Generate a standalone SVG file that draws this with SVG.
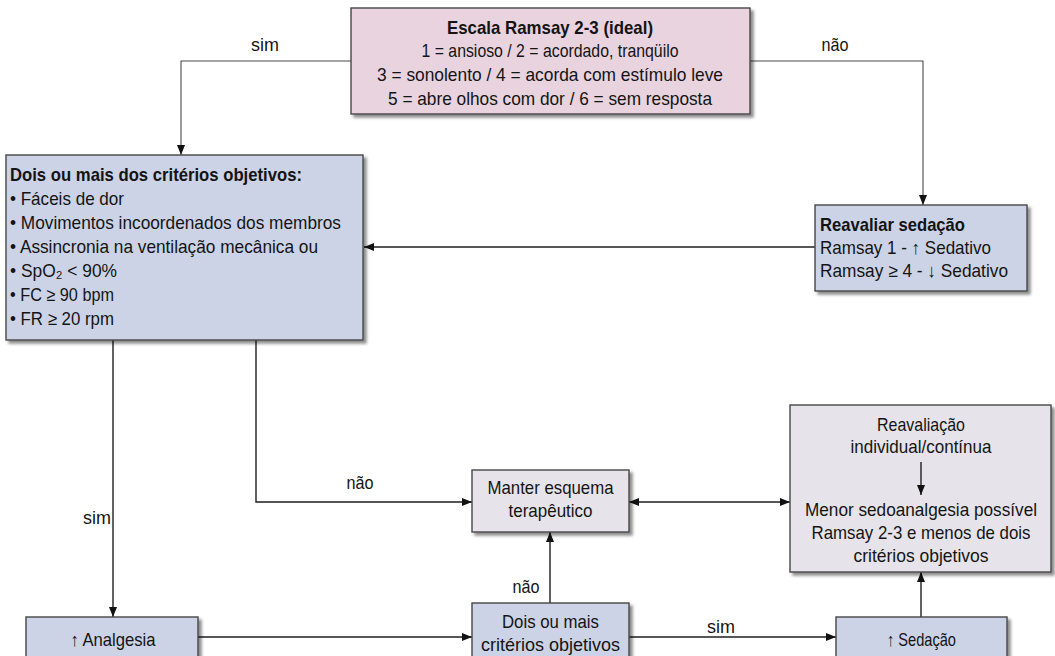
<svg xmlns="http://www.w3.org/2000/svg" width="1055" height="656" viewBox="0 0 1055 656">
  <style>
    .box { stroke: #464646; stroke-width: 1.4; filter: url(#sh); }
    .pink { fill: #e8d3df; }
    .blue { fill: #ccd3e6; }
    .gray { fill: #e6e4ea; }
    .t { font-family: "Liberation Sans Narrow", "Liberation Sans", Arial, sans-serif; font-size: 18.5px; fill: #141414; }
    .b { font-weight: bold; }
    .c { text-anchor: middle; }
    .conn { stroke: #1e1e1e; stroke-width: 1.4; fill: none; }
    .thin { stroke: #4a4a4a; stroke-width: 1.1; }
  </style>
  <defs>
    <marker id="arr" viewBox="0 0 10 10" refX="10" refY="5" markerWidth="10" markerHeight="10" markerUnits="userSpaceOnUse" orient="auto-start-reverse">
      <path d="M0,1 L10,5 L0,9 z" fill="#111"/>
    </marker>
    <filter id="sh" x="-5%" y="-5%" width="115%" height="125%">
      <feDropShadow dx="3" dy="3" stdDeviation="1.6" flood-color="#000" flood-opacity="0.45"/>
    </filter>
  </defs>
  <rect width="1055" height="656" fill="#ffffff"/>

  <!-- connectors -->
  <g id="connectors">
    <path class="conn thin" d="M351,61 H181 V155" marker-end="url(#arr)"/>
    <path class="conn thin" d="M750,61 H923 V205" marker-end="url(#arr)"/>
    <path class="conn" d="M815,247 H364" marker-end="url(#arr)"/>
    <path class="conn" d="M113,340 V617" marker-end="url(#arr)"/>
    <path class="conn" d="M256,340 V502 H472" marker-end="url(#arr)"/>
    <path class="conn" d="M198,637 H472" marker-end="url(#arr)"/>
    <path class="conn" d="M550,603 V532" marker-end="url(#arr)"/>
    <path class="conn" d="M629,637 H836" marker-end="url(#arr)"/>
    <path class="conn" d="M921,617 V572" marker-end="url(#arr)"/>
    <path class="conn" d="M629,502 H790" marker-start="url(#arr)" marker-end="url(#arr)"/>
    <text class="t c" x="265" y="51" textLength="28" lengthAdjust="spacingAndGlyphs">sim</text>
    <text class="t c" x="835" y="51" textLength="27" lengthAdjust="spacingAndGlyphs">não</text>
    <text class="t c" x="360" y="489" textLength="27" lengthAdjust="spacingAndGlyphs">não</text>
    <text class="t c" x="97" y="524" textLength="28" lengthAdjust="spacingAndGlyphs">sim</text>
    <text class="t c" x="526" y="593" textLength="27" lengthAdjust="spacingAndGlyphs">não</text>
    <text class="t c" x="721" y="633" textLength="28" lengthAdjust="spacingAndGlyphs">sim</text>
  </g>

  <!-- Ramsay scale -->
  <g id="ramsay">
    <rect class="box pink" x="351" y="8" width="399" height="106"/>
    <text class="t b c" x="550" y="34" textLength="206" lengthAdjust="spacingAndGlyphs">Escala Ramsay 2-3 (ideal)</text>
    <text class="t c" x="550" y="57" textLength="257" lengthAdjust="spacingAndGlyphs">1 = ansioso / 2 = acordado, tranqüilo</text>
    <text class="t c" x="550" y="81" textLength="346" lengthAdjust="spacingAndGlyphs">3 = sonolento / 4 = acorda com estímulo leve</text>
    <text class="t c" x="550" y="105" textLength="324" lengthAdjust="spacingAndGlyphs">5 = abre olhos com dor / 6 = sem resposta</text>
  </g>

  <!-- objective criteria -->
  <g id="criterios">
    <rect class="box blue" x="6" y="155" width="357" height="185"/>
    <text class="t b" x="10" y="181" textLength="292" lengthAdjust="spacingAndGlyphs">Dois ou mais dos critérios objetivos:</text>
    <text class="t" x="10" y="205" textLength="114" lengthAdjust="spacingAndGlyphs">• Fáceis de dor</text>
    <text class="t" x="10" y="229" textLength="331" lengthAdjust="spacingAndGlyphs">• Movimentos incoordenados dos membros</text>
    <text class="t" x="10" y="253" textLength="308" lengthAdjust="spacingAndGlyphs">• Assincronia na ventilação mecânica ou</text>
    <text class="t" x="10" y="277" textLength="107" lengthAdjust="spacingAndGlyphs">• SpO₂ &lt; 90%</text>
    <text class="t" x="10" y="301" textLength="104" lengthAdjust="spacingAndGlyphs">• FC ≥ 90 bpm</text>
    <text class="t" x="10" y="325" textLength="104" lengthAdjust="spacingAndGlyphs">• FR ≥ 20 rpm</text>
  </g>

  <!-- reassess sedation -->
  <g id="reavaliar">
    <rect class="box blue" x="815" y="205" width="212" height="86"/>
    <text class="t b" x="820" y="231" textLength="145" lengthAdjust="spacingAndGlyphs">Reavaliar sedação</text>
    <text class="t" x="820" y="254" textLength="171" lengthAdjust="spacingAndGlyphs">Ramsay 1 - ↑ Sedativo</text>
    <text class="t" x="820" y="277" textLength="188" lengthAdjust="spacingAndGlyphs">Ramsay ≥ 4 - ↓ Sedativo</text>
  </g>

  <!-- keep scheme -->
  <g id="manter">
    <rect class="box gray" x="472" y="470" width="157" height="62"/>
    <text class="t c" x="550.5" y="494" textLength="126" lengthAdjust="spacingAndGlyphs">Manter esquema</text>
    <text class="t c" x="550.5" y="517" textLength="84" lengthAdjust="spacingAndGlyphs">terapêutico</text>
  </g>

  <!-- continuous reassessment -->
  <g id="reavaliacao">
    <rect class="box gray" x="790" y="405" width="261" height="167"/>
    <text class="t c" x="921" y="431" textLength="88" lengthAdjust="spacingAndGlyphs">Reavaliação</text>
    <text class="t c" x="921" y="453" textLength="141" lengthAdjust="spacingAndGlyphs">individual/contínua</text>
    <path class="conn" d="M921,462 V495" marker-end="url(#arr)"/>
    <text class="t c" x="921" y="516" textLength="232" lengthAdjust="spacingAndGlyphs">Menor sedoanalgesia possível</text>
    <text class="t c" x="921" y="539" textLength="219" lengthAdjust="spacingAndGlyphs">Ramsay 2-3 e menos de dois</text>
    <text class="t c" x="921" y="562" textLength="135" lengthAdjust="spacingAndGlyphs">critérios objetivos</text>
  </g>

  <!-- bottom row -->
  <g id="analgesia">
    <rect class="box blue" x="26" y="617" width="172" height="60"/>
    <text class="t c" x="113" y="646" textLength="85" lengthAdjust="spacingAndGlyphs">↑ Analgesia</text>
  </g>
  <g id="dois-criterios">
    <rect class="box blue" x="472" y="603" width="157" height="70"/>
    <text class="t c" x="550.5" y="628" textLength="97" lengthAdjust="spacingAndGlyphs">Dois ou mais</text>
    <text class="t c" x="550.5" y="651" textLength="139" lengthAdjust="spacingAndGlyphs">critérios objetivos</text>
  </g>
  <g id="sedacao">
    <rect class="box blue" x="836" y="617" width="171" height="60"/>
    <text class="t c" x="921.5" y="646" textLength="69" lengthAdjust="spacingAndGlyphs">↑ Sedação</text>
  </g>
</svg>
